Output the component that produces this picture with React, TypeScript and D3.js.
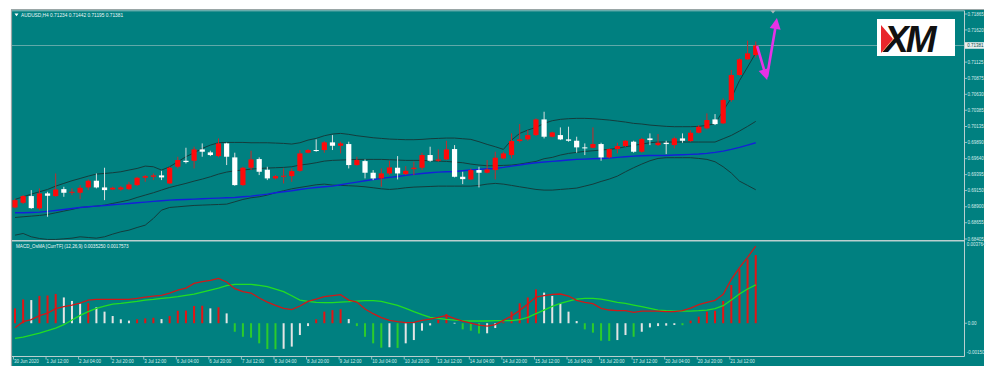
import React from "react";
import * as d3 from "d3";

const W = 1000;
const H = 380;

// ---------- Price data (AUDUSD H4) ----------
const opens = [
  0.6889, 0.68962, 0.69065, 0.68875, 0.69106, 0.69065, 0.69172, 0.69116, 0.69116, 0.69198,
  0.69301, 0.69198, 0.69167, 0.69167, 0.69172, 0.69234, 0.69347, 0.69362, 0.69383, 0.69259,
  0.69516, 0.69608, 0.69608, 0.69783, 0.69737, 0.6968, 0.69875, 0.6966, 0.69234, 0.69501,
  0.69634, 0.6947, 0.69337, 0.69362, 0.69372, 0.69454, 0.69732, 0.69773, 0.69773, 0.69891,
  0.69839, 0.69865, 0.69542, 0.69603, 0.69424, 0.69337, 0.69413, 0.69501, 0.69403, 0.6948,
  0.69501, 0.69696, 0.69608, 0.69629, 0.69788, 0.69362, 0.69321, 0.69465, 0.69424, 0.69465,
  0.69644, 0.69696, 0.69911, 0.69937, 0.70003, 0.70244, 0.69978, 0.70003, 0.69937, 0.69916,
  0.69814, 0.69808, 0.69865, 0.6966, 0.69788, 0.69834, 0.69901, 0.69747, 0.69952, 0.69849,
  0.69885, 0.69849, 0.69952, 0.69911, 0.70039, 0.70106, 0.70244, 0.70183, 0.70542, 0.70927,
  0.71168, 0.71234,
];
const highs = [
  0.69029, 0.6908, 0.69157, 0.69183, 0.69131, 0.69413, 0.69208, 0.69183, 0.69234, 0.69321,
  0.69413, 0.69501, 0.69208, 0.69219, 0.69285, 0.69362, 0.69388, 0.69413, 0.69454, 0.69516,
  0.6967, 0.69808, 0.69824, 0.69875, 0.69762, 0.69952, 0.69885, 0.69732, 0.69516, 0.69762,
  0.6966, 0.69516, 0.69388, 0.6949, 0.6949, 0.69773, 0.69788, 0.69937, 0.69911, 0.70003,
  0.69901, 0.69901, 0.6967, 0.69629, 0.69465, 0.6949, 0.69608, 0.6968, 0.69526, 0.69593,
  0.69732, 0.69824, 0.69783, 0.69916, 0.69849, 0.69439, 0.6949, 0.69516, 0.69619, 0.69747,
  0.69747, 0.70029, 0.70173, 0.7008, 0.7026, 0.70362, 0.70055, 0.70121, 0.70132, 0.69978,
  0.69875, 0.70121, 0.69885, 0.69798, 0.69885, 0.69926, 0.69916, 0.69962, 0.70029, 0.70019,
  0.69916, 0.69978, 0.70029, 0.7008, 0.70157, 0.70337, 0.70326, 0.70568, 0.71004, 0.71183,
  0.71455, 0.71442,
];
const lows = [
  0.68875, 0.68942, 0.6887, 0.68849, 0.68747, 0.69054, 0.69054, 0.6908, 0.69018, 0.69157,
  0.69183, 0.69003, 0.69157, 0.69147, 0.69157, 0.69219, 0.69285, 0.69311, 0.69311, 0.69249,
  0.6949, 0.69567, 0.6949, 0.6967, 0.6968, 0.6966, 0.69542, 0.69224, 0.69219, 0.69465,
  0.69388, 0.69311, 0.69321, 0.69259, 0.69285, 0.69439, 0.69721, 0.69747, 0.69732, 0.69773,
  0.69721, 0.6949, 0.69531, 0.69337, 0.69311, 0.69208, 0.69388, 0.69321, 0.69388, 0.69388,
  0.69465, 0.69593, 0.69593, 0.69619, 0.69352, 0.69249, 0.69311, 0.69198, 0.69413, 0.69321,
  0.69629, 0.69644, 0.69885, 0.69916, 0.69988, 0.69952, 0.69967, 0.69926, 0.69901, 0.69732,
  0.69696, 0.69798, 0.69608, 0.69644, 0.69721, 0.69824, 0.69732, 0.69732, 0.69849, 0.69834,
  0.69711, 0.69798, 0.69885, 0.69901, 0.70029, 0.7009, 0.70157, 0.70172, 0.70516, 0.70916,
  0.71157, 0.71195,
];
const closes = [
  0.69003, 0.69065, 0.6888, 0.69106, 0.6907, 0.69167, 0.69116, 0.69131, 0.69193, 0.69301,
  0.69198, 0.69157, 0.69193, 0.69198, 0.69244, 0.69347, 0.69372, 0.69383, 0.69352, 0.69501,
  0.69619, 0.69588, 0.69783, 0.69747, 0.69696, 0.69875, 0.6967, 0.69234, 0.69501, 0.69629,
  0.69439, 0.69337, 0.69372, 0.69378, 0.69449, 0.69721, 0.69773, 0.69762, 0.69891, 0.69839,
  0.69875, 0.69542, 0.69619, 0.69424, 0.69337, 0.69413, 0.69506, 0.69413, 0.69454, 0.69501,
  0.69696, 0.69608, 0.69629, 0.69783, 0.69362, 0.69326, 0.69465, 0.69424, 0.69475, 0.69655,
  0.69721, 0.69911, 0.69937, 0.70003, 0.70244, 0.69978, 0.70044, 0.69937, 0.69916, 0.69814,
  0.69803, 0.69865, 0.6966, 0.69788, 0.69834, 0.69916, 0.69747, 0.69942, 0.69926, 0.69885,
  0.69865, 0.69952, 0.69916, 0.70039, 0.70131, 0.70234, 0.70172, 0.70542, 0.70927, 0.71168,
  0.7126, 0.71381,
];

// ---------- Bollinger Bands (20,2) and moving average ----------
const bbUpper = [
  0.69013, 0.69054, 0.69095, 0.69131, 0.69167, 0.69218, 0.6926, 0.69301, 0.69336, 0.69372,
  0.69403, 0.69413, 0.69424, 0.69439, 0.69465, 0.6949, 0.69526, 0.69516, 0.69465, 0.69516,
  0.69593, 0.6967, 0.69731, 0.69798, 0.69849, 0.69885, 0.6989, 0.6989, 0.6989, 0.69885,
  0.69885, 0.69885, 0.6988, 0.69875, 0.69865, 0.69885, 0.69926, 0.69952, 0.69993, 0.70019,
  0.70029, 0.70014, 0.69993, 0.69978, 0.69962, 0.69952, 0.69942, 0.69937, 0.69932, 0.69932,
  0.69937, 0.69947, 0.69952, 0.69957, 0.69957, 0.69947, 0.69937, 0.69901, 0.6986, 0.69824,
  0.69783, 0.69926, 0.70029, 0.7008, 0.70121, 0.70183, 0.70224, 0.70245, 0.70255, 0.7026,
  0.7026, 0.70255, 0.70245, 0.70234, 0.70219, 0.70203, 0.70183, 0.70173, 0.70157, 0.70147,
  0.70137, 0.70132, 0.70132, 0.70132, 0.70137, 0.70152, 0.70178, 0.70378, 0.70573, 0.7084,
  0.7105, 0.71265,
];
const bbMiddle = [
  0.68736, 0.68747, 0.68757, 0.68767, 0.68782, 0.68808, 0.68834, 0.68859, 0.6889, 0.689,
  0.68911, 0.68926, 0.68952, 0.68977, 0.69003, 0.69044, 0.6908, 0.69116, 0.69157, 0.69198,
  0.69229, 0.6926, 0.69295, 0.69326, 0.69362, 0.69403, 0.69434, 0.69454, 0.69465, 0.6948,
  0.6949, 0.69496, 0.69501, 0.69506, 0.69516, 0.69542, 0.69557, 0.69578, 0.69603, 0.69614,
  0.69619, 0.69624, 0.69629, 0.69629, 0.69629, 0.69629, 0.69624, 0.69619, 0.69614, 0.69614,
  0.69614, 0.69608, 0.69603, 0.69598, 0.69588, 0.69578, 0.69557, 0.69542, 0.69531, 0.69531,
  0.69537, 0.69542, 0.69557, 0.69578, 0.69598, 0.69640, 0.6966, 0.69696, 0.69721, 0.69737,
  0.69752, 0.69762, 0.69773, 0.69783, 0.69798, 0.69824, 0.69844, 0.69865, 0.69885, 0.69896,
  0.69896, 0.69896, 0.69896, 0.69896, 0.69896, 0.69896, 0.69896, 0.69947, 0.69998, 0.70065,
  0.70137, 0.70214,
];
const bbLower = [
  0.68464, 0.6849, 0.68439, 0.68413, 0.68398, 0.68398, 0.68408, 0.68418, 0.68439, 0.68428,
  0.68418, 0.68439, 0.6848, 0.68516, 0.68541, 0.68582, 0.68618, 0.68721, 0.68849, 0.6889,
  0.689, 0.68911, 0.68921, 0.68926, 0.68931, 0.68936, 0.68941, 0.68977, 0.69013, 0.69039,
  0.69054, 0.6908, 0.69116, 0.69147, 0.69177, 0.69198, 0.69218, 0.69239, 0.69249, 0.69234,
  0.69229, 0.69224, 0.69218, 0.69208, 0.69193, 0.69177, 0.69167, 0.69177, 0.69193, 0.69203,
  0.69208, 0.69213, 0.69218, 0.69218, 0.69218, 0.69218, 0.69218, 0.69229, 0.69249, 0.6926,
  0.69249, 0.69229, 0.69208, 0.69188, 0.69167, 0.69157, 0.69157, 0.69167, 0.69177, 0.69188,
  0.69218, 0.69249, 0.6929, 0.69326, 0.69372, 0.69439, 0.69501, 0.69557, 0.69608, 0.69644,
  0.69655, 0.69655, 0.69655, 0.69655, 0.69644, 0.69629, 0.69593, 0.69516, 0.69419, 0.69295,
  0.69229, 0.69162,
];
const maBlue = [
  0.68808, 0.68808, 0.68813, 0.68818, 0.68829, 0.68844, 0.68859, 0.68875, 0.6889, 0.689,
  0.68911, 0.68921, 0.68931, 0.68941, 0.68952, 0.68962, 0.68972, 0.68983, 0.68993, 0.69003,
  0.69008, 0.69013, 0.69018, 0.69024, 0.69029, 0.69034, 0.69039, 0.69044, 0.69054, 0.69065,
  0.6908, 0.69095, 0.69116, 0.69131, 0.69147, 0.69167, 0.69183, 0.69198, 0.69208, 0.69218,
  0.69239, 0.6926, 0.6928, 0.69301, 0.69321, 0.69337, 0.69352, 0.69367, 0.69383, 0.69398,
  0.69413, 0.69424, 0.69434, 0.69439, 0.69444, 0.69454, 0.69465, 0.69475, 0.69485, 0.6949,
  0.69506, 0.69526, 0.69542, 0.69562, 0.69578, 0.69588, 0.69598, 0.69608, 0.69619, 0.69629,
  0.69634, 0.69639, 0.69644, 0.69649, 0.6966, 0.6967, 0.6968, 0.69685, 0.6969, 0.6969,
  0.6969, 0.69696, 0.69701, 0.69706, 0.69711, 0.69721, 0.69737, 0.69757, 0.69783, 0.69814,
  0.69849, 0.69885,
];

// ---------- MACD_OsMA ----------
const osmaHist = [
  0.00068, 0.00109, 0.00106, 0.00125, 0.00127, 0.00134, 0.00118, 0.00102, 0.00091, 0.00092,
  0.00073, 0.00053, 0.00033, 0.00018, 0.00012, 0.00018, 0.00022, 0.00025, 0.00019, 0.00033,
  0.00057, 0.00058, 0.00079, 0.0008, 0.00068, 0.00073, 0.00045, -0.00039, -0.00062, -0.00066,
  -0.00092, -0.00118, -0.00119, -0.00117, -0.00107, -0.00054, -0.00013, 0.00018, 0.00053, 0.0006,
  0.00064, 0.00019, -0.00013, -0.00062, -0.00092, -0.00112, -0.0011, -0.00113, -0.00092, -0.00077,
  -0.00034, -0.0001, 0.00015, 0.00042, 0.00002, -0.00028, -0.00034, -0.00047, -0.00046, -0.00022,
  0.00005, 0.00053, 0.00091, 0.00118, 0.00155, 0.0014, 0.00125, 0.00091, 0.00053, 0.0001,
  -0.00028, -0.00043, -0.0008, -0.00081, -0.00077, -0.00054, -0.00062, -0.00039, -0.00019, -0.00013,
  -0.00011, -0.00008, -0.00009, 0.00012, 0.0003, 0.00053, 0.00057, 0.00102, 0.00175, 0.00247,
  0.00292, 0.00312,
];
const macdMain = [
  -0.000204, 0.00007, 0.000162, 0.000345, 0.000467, 0.000665, 0.000757, 0.000833, 0.000925, 0.001062,
  0.001093, 0.001093, 0.001093, 0.001093, 0.001093, 0.001138, 0.001199, 0.001245, 0.001276, 0.001382,
  0.00152, 0.001611, 0.001825, 0.001901, 0.001962, 0.002054, 0.001886, 0.001581, 0.001443, 0.001382,
  0.001154, 0.00097, 0.000818, 0.000681, 0.00062, 0.000787, 0.001001, 0.001108, 0.001215, 0.00126,
  0.001306, 0.001062, 0.00097, 0.00065, 0.000436, 0.000253, 0.000131, 0.00007, 0.000024, 0.00004,
  0.000131, 0.000192, 0.000269, 0.00036, 0.000208, 0.000101, 0.000009, -0.000082, -0.000128, -0.000067,
  0.000131, 0.00033, 0.000589, 0.000879, 0.001199, 0.00126, 0.001321, 0.001337, 0.001245, 0.001047,
  0.000955, 0.000894, 0.000681, 0.000605, 0.000574, 0.000574, 0.000497, 0.000558, 0.000558, 0.000558,
  0.000528, 0.000528, 0.000574, 0.000696, 0.000848, 0.000955, 0.001047, 0.001321, 0.002008, 0.002542,
  0.003015, 0.003525,
];
const macdSignal = [
  -0.000693, -0.000632, -0.00054, -0.000449, -0.000342, -0.00022, -0.000067, 0.000146, 0.00036, 0.000528,
  0.000681, 0.000787, 0.000879, 0.000909, 0.000955, 0.001001, 0.001062, 0.001093, 0.001138, 0.001169,
  0.001215, 0.001276, 0.001337, 0.001428, 0.00152, 0.001611, 0.001718, 0.001779, 0.001779, 0.001779,
  0.001733, 0.001672, 0.001565, 0.001443, 0.00126, 0.001062, 0.001001, 0.000955, 0.00094, 0.00094,
  0.00097, 0.000986, 0.001016, 0.001031, 0.001031, 0.001001, 0.000909, 0.000818, 0.000681, 0.000528,
  0.000391, 0.000269, 0.000223, 0.000177, 0.000146, 0.000116, 0.000101, 0.000101, 0.000101, 0.000116,
  0.000116, 0.000116, 0.000162, 0.000269, 0.000436, 0.000604, 0.000772, 0.000909, 0.001016, 0.001108,
  0.001138, 0.001138, 0.001108, 0.001031, 0.000955, 0.000909, 0.000833, 0.000757, 0.000681, 0.000604,
  0.000574, 0.000558, 0.000558, 0.000558, 0.000574, 0.000604, 0.000665, 0.000803, 0.001062, 0.001337,
  0.001565, 0.0017573,
];

// ---------- Axis labels ----------
const timeLabels = [
  "30 Jun 2020", "1 Jul 12:00", "2 Jul 04:00", "2 Jul 20:00", "3 Jul 12:00", "6 Jul 04:00",
  "6 Jul 20:00", "7 Jul 12:00", "8 Jul 04:00", "8 Jul 20:00", "9 Jul 12:00", "10 Jul 04:00",
  "10 Jul 20:00", "13 Jul 12:00", "14 Jul 04:00", "14 Jul 20:00", "15 Jul 12:00", "16 Jul 04:00",
  "16 Jul 20:00", "17 Jul 12:00", "20 Jul 04:00", "20 Jul 20:00", "21 Jul 12:00",
];
const barsPerTimeLabel = 4;
const priceTicks = [
  0.71865, 0.7162, 0.71125, 0.70875, 0.7063, 0.70385, 0.70135, 0.6989, 0.6964, 0.69395,
  0.6915, 0.689, 0.68655, 0.68405,
];
const priceDomain = [0.68405, 0.71865];
const macdDomain = [-0.0015, 0.003764];
const macdTickLabels = ["0.003764", "0.00", "-0.00150"];
const symbolTitle = "AUDUSD,H4  0.71234 0.71442 0.71195 0.71381";
const macdTitle = "MACD_OsMA [CurrTF] (12,26,9) 0.0035250 0.0017573";
const lastPrice = 0.71381;
// hand-drawn forecast arrow (bar index, price)
const arrowPath: [number, number][] = [
  [91.2, 0.71358],
  [92.4, 0.7085],
  [93.6, 0.71803],
];

const TEAL = "#008080";
const FONT = "'Liberation Sans', Arial, sans-serif";
const LABEL = "#d6ecec";
const FRAME = "#b9cfcf";

export default function App() {
  const n = closes.length;
  const x = d3.scaleLinear().domain([0, n - 1]).range([15, 15 + 8.14 * (n - 1)]);
  const y = d3.scaleLinear().domain(priceDomain).range([239, 14]);
  const ym = d3.scaleLinear().domain(macdDomain).range([356, 241]);

  const line = (arr: number[], sc: d3.ScaleLinear<number, number>) =>
    d3
      .line<number>()
      .x((_, i) => x(i))
      .y((d) => sc(d))(arr) as string;

  const histColor = (i: number) => {
    const v = osmaHist[i];
    const p = i > 0 ? osmaHist[i - 1] : -Infinity;
    if (v >= 0) return v >= p ? "#e31414" : "#e4e4e4";
    return v < p ? "#2bcc2b" : "#e4e4e4";
  };

  // arrow geometry
  const ap = arrowPath.map(([b, p]) => [x(b), y(p)] as [number, number]);
  const head = (from: [number, number], to: [number, number], len = 11, w = 5.5) => {
    const dx = to[0] - from[0];
    const dy = to[1] - from[1];
    const L = Math.hypot(dx, dy);
    const ux = dx / L;
    const uy = dy / L;
    const bx = to[0] - ux * len;
    const by = to[1] - uy * len;
    return `${to[0]},${to[1]} ${bx - uy * w},${by + ux * w} ${bx + uy * w},${by - ux * w}`;
  };
  const shorten = (from: [number, number], to: [number, number], d: number): [number, number] => {
    const dx = to[0] - from[0];
    const dy = to[1] - from[1];
    const L = Math.hypot(dx, dy);
    return [to[0] - (dx / L) * d, to[1] - (dy / L) * d];
  };

  return (
    <svg
      width={W}
      height={H}
      style={{ position: "fixed", left: 0, top: 0, background: "#ffffff", fontFamily: FONT }}
    >
      <defs>
        <clipPath id="mainClip">
          <rect x={12} y={11} width={952} height={229} />
        </clipPath>
        <clipPath id="macdClip">
          <rect x={12} y={242} width={952} height={114} />
        </clipPath>
      </defs>

      {/* window background */}
      <rect x={11} y={9.5} width={973} height={356.5} fill={TEAL} />
      <line x1={11.5} y1={9.5} x2={11.5} y2={366} stroke="#9aa6a6" strokeWidth={1.2} />
      <line x1={11} y1={9.5} x2={984} y2={9.5} stroke="#9aa6a6" strokeWidth={1} />

      {/* frame lines */}
      <line x1={12} y1={10.8} x2={964} y2={10.8} stroke={FRAME} strokeWidth={0.8} />
      <line x1={964.5} y1={10.5} x2={964.5} y2={356.5} stroke={FRAME} strokeWidth={1} />
      <line x1={12} y1={240.8} x2={964} y2={240.8} stroke={FRAME} strokeWidth={1.4} />
      <line x1={12} y1={356.5} x2={964.5} y2={356.5} stroke={FRAME} strokeWidth={1} />

      {/* current price line */}
      <line x1={12} y1={y(lastPrice)} x2={964} y2={y(lastPrice)} stroke="#9cc4c4" strokeWidth={0.8} opacity={0.8} />

      {/* main panel */}
      <g clipPath="url(#mainClip)">
        <path d={line(bbUpper, y)} fill="none" stroke="#143c3c" strokeWidth={1} />
        <path d={line(bbMiddle, y)} fill="none" stroke="#143c3c" strokeWidth={1} />
        <path d={line(bbLower, y)} fill="none" stroke="#143c3c" strokeWidth={1} />
        <path d={line(maBlue, y)} fill="none" stroke="#1420d8" strokeWidth={1.4} />
        {closes.map((c, i) => {
          const o = opens[i];
          const up = c >= o;
          const top = y(Math.max(o, c));
          const bot = y(Math.min(o, c));
          return (
            <g key={i}>
              <line
                x1={x(i)}
                x2={x(i)}
                y1={y(highs[i])}
                y2={y(lows[i])}
                stroke={up ? "#c62a2a" : "#d8dede"}
                strokeWidth={1}
              />
              <rect
                x={x(i) - 2.6}
                y={top}
                width={5.2}
                height={Math.max(1, bot - top)}
                fill={up ? "#ff0a0a" : "#ffffff"}
              />
            </g>
          );
        })}
      </g>

      {/* title */}
      <polygon points="14.5,13.5 18.5,13.5 16.5,16.2" fill="#ffffff" />
      <text x={21} y={16.8} fontSize={4.8} fill="#eef8f8">
        {symbolTitle}
      </text>

      {/* XM logo */}
      <rect x={877} y={19} width={78} height={37} fill="#ffffff" />
      <text
        x={884}
        y={52}
        fontSize={37}
        fontWeight={900}
        fontStyle="italic"
        fill="#111111"
        letterSpacing={-3}
        fontFamily="'Liberation Sans', Arial, sans-serif"
      >
        XM
      </text>
      <polygon points="881,25 893,39 881,53" fill="#e8262b" />

      {/* forecast arrow */}
      <g stroke="#e632e6" strokeWidth={2.6} fill="none" strokeLinecap="round">
        <line x1={ap[0][0]} y1={ap[0][1]} x2={shorten(ap[0], ap[1], 8)[0]} y2={shorten(ap[0], ap[1], 8)[1]} />
        <line x1={ap[1][0]} y1={ap[1][1] - 4} x2={shorten(ap[1], ap[2], 8)[0]} y2={shorten(ap[1], ap[2], 8)[1]} />
      </g>
      <polygon points={head(ap[0], ap[1])} fill="#e632e6" />
      <polygon points={head(ap[1], ap[2])} fill="#e632e6" />

      {/* chart shift marker */}
      <polygon points="770.5,10.5 775.5,10.5 773,13.5" fill="#a9b9b9" />

      {/* price axis */}
      {priceTicks.map((p) => (
        <g key={p}>
          <line x1={964.5} x2={967} y1={y(p)} y2={y(p)} stroke={FRAME} strokeWidth={0.8} />
          <text x={967.5} y={y(p) + 1.6} fontSize={4.5} fill={LABEL}>
            {p.toFixed(5)}
          </text>
        </g>
      ))}
      <rect x={965} y={y(lastPrice) - 3.3} width={19} height={6.6} fill="#e8eeee" />
      <text x={967.2} y={y(lastPrice) + 1.6} fontSize={4.5} fill="#0b4f4f">
        {lastPrice.toFixed(5)}
      </text>

      {/* MACD panel */}
      <g clipPath="url(#macdClip)">
        {osmaHist.map((v, i) => (
          <rect
            key={i}
            x={x(i) - 1}
            width={2}
            y={Math.min(ym(0), ym(v))}
            height={Math.max(0.8, Math.abs(ym(v) - ym(0)))}
            fill={histColor(i)}
          />
        ))}
        <path d={line(macdSignal, ym)} fill="none" stroke="#22dd22" strokeWidth={1.3} />
        <path d={line(macdMain, ym)} fill="none" stroke="#d01818" strokeWidth={1.3} />
      </g>
      <text x={16} y={248} fontSize={4.6} fill="#eef8f8">
        {macdTitle}
      </text>
      <text x={966.8} y={ym(macdDomain[1]) + 5.3} fontSize={4.5} fill={LABEL}>
        {macdTickLabels[0]}
      </text>
      <line x1={964.5} x2={967} y1={ym(0)} y2={ym(0)} stroke={FRAME} strokeWidth={0.8} />
      <text x={967.7} y={ym(0) + 1.6} fontSize={4.5} fill={LABEL}>
        {macdTickLabels[1]}
      </text>
      <text x={966.8} y={ym(macdDomain[0]) - 1.8} fontSize={4.5} fill={LABEL}>
        {macdTickLabels[2]}
      </text>

      {/* time axis */}
      {timeLabels.map((t, k) => {
        const xi = x(k * barsPerTimeLabel) - 1.5;
        return (
          <g key={t}>
            <line x1={xi} x2={xi} y1={356.5} y2={359.5} stroke={FRAME} strokeWidth={0.8} />
            <text x={xi + 0.5} y={362.8} fontSize={4.5} fill={LABEL}>
              {t}
            </text>
          </g>
        );
      })}
    </svg>
  );
}
